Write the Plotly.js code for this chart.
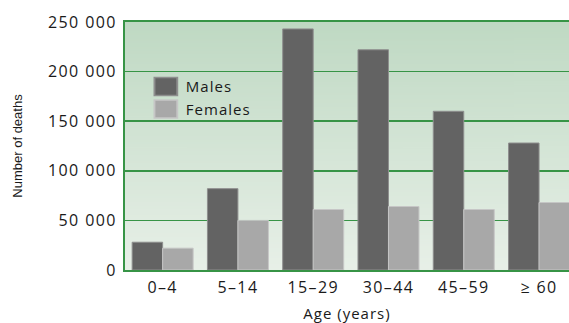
<!DOCTYPE html>
<html>
<head>
<meta charset="utf-8">
<script src="https://cdn.plot.ly/plotly-3.0.1.min.js"></script>
<style>
  html, body { margin: 0; padding: 0; background: #ffffff; overflow: hidden; }
  #chart { width: 569px; height: 323px; }
  .xtick text, .ytick text { letter-spacing: 1.4px; }
  .xtitle, .legendtext { letter-spacing: 1px; }
  .legendpoints path { transform: translate(20px, 0px) scale(1.9, 1.5); }
</style>
</head>
<body>
<div id="chart"></div>
<script>
// ---- data ----
var ageGroups = ["0–4", "5–14", "15–29", "30–44", "45–59", "≥ 60"];
var malesDeaths = [28000, 82000, 243000, 222000, 160000, 128000];
var femalesDeaths = [22000, 50000, 61000, 64000, 61000, 68000];
var seriesNames = ["Males", "Females"];
var yTickVals = [0, 50000, 100000, 150000, 200000, 250000];
var yTickText = ["0", "50 000", "100 000", "150 000", "200 000", "250 000"];

// ---- background gradient ----
function gradientURL() {
  var c = document.createElement('canvas');
  c.width = 4; c.height = 256;
  var g = c.getContext('2d');
  var grd = g.createLinearGradient(0, 0, 0, 256);
  grd.addColorStop(0, '#bfd9c3');
  grd.addColorStop(1, '#e8f0e8');
  g.fillStyle = grd;
  g.fillRect(0, 0, 4, 256);
  return c.toDataURL('image/png');
}

var green = '#379446';
var tickFont = { family: 'Open Sans, sans-serif', size: 16, color: '#1a1a1a' };

var traces = [
  {
    type: 'bar', name: seriesNames[0], x: ageGroups, y: malesDeaths,
    marker: { color: '#636363', line: { color: '#8e8e8e', width: 1 } }
  },
  {
    type: 'bar', name: seriesNames[1], x: ageGroups, y: femalesDeaths,
    marker: { color: '#a8a8a8', line: { color: '#c6c6c6', width: 1 } }
  }
];

var layout = {
  width: 569, height: 323,
  margin: { l: 125, r: 0, t: 22, b: 53 },
  paper_bgcolor: '#ffffff',
  plot_bgcolor: '#e0ece0',
  barmode: 'group',
  bargap: 0.19,
  bargroupgap: 0,
  showlegend: true,
  legend: {
    x: 0.047, y: 0.805, xanchor: 'left', yanchor: 'top',
    bgcolor: 'rgba(0,0,0,0)',
    font: { family: 'Open Sans, sans-serif', size: 15, color: '#1a1a1a' },
    tracegroupgap: 0, itemclick: false
  },
  xaxis: {
    type: 'category',
    range: [-0.5, 5.398],
    showgrid: false,
    showline: true, linecolor: green, linewidth: 2, mirror: true,
    ticks: '', tickfont: tickFont, ticklabelstandoff: 2,
    fixedrange: true,
    title: { text: 'Age (years)', font: { family: 'Open Sans, sans-serif', size: 15, color: '#1a1a1a' }, standoff: 12 }
  },
  yaxis: {
    range: [0, 250000],
    tickvals: yTickVals, ticktext: yTickText,
    showgrid: true, gridcolor: green, gridwidth: 1.6,
    zeroline: false,
    showline: true, linecolor: green, linewidth: 2,
    ticks: '', tickfont: tickFont, ticklabelstandoff: 3,
    fixedrange: true,
    title: { text: 'Number of deaths', font: { family: 'Liberation Sans, Arial, sans-serif', size: 13, color: '#1a1a1a' }, standoff: 22 }
  },
  images: [{
    source: gradientURL(), xref: 'paper', yref: 'paper',
    x: 0, y: 1, sizex: 1, sizey: 1, sizing: 'stretch',
    xanchor: 'left', yanchor: 'top', layer: 'below'
  }]
};

Plotly.newPlot('chart', traces, layout, { displayModeBar: false, staticPlot: true });
</script>
</body>
</html>
